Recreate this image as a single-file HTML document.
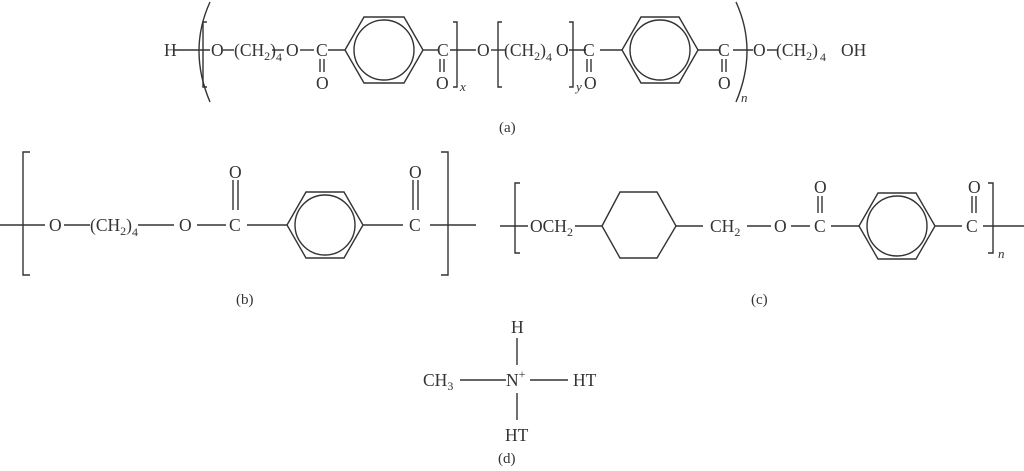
<!DOCTYPE html>
<html><head><meta charset="utf-8"><style>
html,body{margin:0;padding:0;background:#fff;}
svg{display:block;}
text{font-family:"Liberation Serif",serif;font-size:17.5px;fill:#333;}
.s{font-size:12px;}
.i{font-style:italic;font-size:13px;}
</style></head><body>
<svg width="1024" height="471" viewBox="0 0 1024 471" xmlns="http://www.w3.org/2000/svg">
<g stroke="#333" stroke-width="1.4" fill="none">
<!-- (a) -->
<line x1="174" y1="50" x2="210" y2="50"/>
<path d="M210 2 Q188 50 210 102"/>
<path d="M207 22 L203 22 L203 87 L207 87"/>
<line x1="223" y1="50" x2="234" y2="50"/>
<line x1="272" y1="50" x2="284" y2="50"/>
<line x1="300" y1="50" x2="314" y2="50"/>
<line x1="328" y1="50" x2="345" y2="50"/>
<line x1="320" y1="59" x2="320" y2="72"/><line x1="324" y1="59" x2="324" y2="72"/>
<polygon points="345,50 364,17 404,17 423,50 404,83 364,83"/>
<circle cx="384" cy="50" r="30"/>
<line x1="423" y1="50" x2="438" y2="50"/>
<line x1="440" y1="59" x2="440" y2="72"/><line x1="444" y1="59" x2="444" y2="72"/>
<path d="M453 22 L457 22 L457 87 L453 87"/>
<line x1="450" y1="50" x2="476" y2="50"/>
<line x1="491" y1="50" x2="505" y2="50"/>
<path d="M502 22 L498 22 L498 87 L502 87"/>
<line x1="569" y1="50" x2="586" y2="50"/>
<path d="M569 22 L573 22 L573 87 L569 87"/>
<line x1="587" y1="59" x2="587" y2="72"/><line x1="591" y1="59" x2="591" y2="72"/>
<line x1="600" y1="50" x2="622" y2="50"/>
<polygon points="622,50 641,17 679,17 698,50 679,83 641,83"/>
<circle cx="660" cy="50" r="30"/>
<line x1="698" y1="50" x2="720" y2="50"/>
<line x1="722" y1="59" x2="722" y2="72"/><line x1="726" y1="59" x2="726" y2="72"/>
<path d="M736 2 Q758 50 736 102"/>
<line x1="733" y1="50" x2="753" y2="50"/>
<line x1="767" y1="50" x2="778" y2="50"/>
<!-- (b) -->
<line x1="0" y1="225" x2="45" y2="225"/>
<path d="M30 152 L23 152 L23 275 L30 275"/>
<line x1="64" y1="225" x2="90" y2="225"/>
<line x1="138" y1="225" x2="174" y2="225"/>
<line x1="197" y1="225" x2="226" y2="225"/>
<line x1="233" y1="180" x2="233" y2="210"/><line x1="238" y1="180" x2="238" y2="210"/>
<line x1="247" y1="225" x2="287" y2="225"/>
<polygon points="287,225 306,192 344,192 363,225 344,258 306,258"/>
<circle cx="325" cy="225" r="30"/>
<line x1="363" y1="225" x2="403" y2="225"/>
<line x1="413" y1="180" x2="413" y2="210"/><line x1="418" y1="180" x2="418" y2="210"/>
<line x1="430" y1="225" x2="476" y2="225"/>
<path d="M441 152 L448 152 L448 275 L441 275"/>
<!-- (c) -->
<line x1="500" y1="226" x2="528" y2="226"/>
<path d="M520 183 L515 183 L515 253 L520 253"/>
<line x1="575" y1="226" x2="602" y2="226"/>
<polygon points="602,226 620,192 657,192 676,226 657,258 620,258"/>
<line x1="676" y1="226" x2="703" y2="226"/>
<line x1="747" y1="226" x2="771" y2="226"/>
<line x1="791" y1="226" x2="810" y2="226"/>
<line x1="818" y1="196" x2="818" y2="213"/><line x1="822" y1="196" x2="822" y2="213"/>
<line x1="831" y1="226" x2="859" y2="226"/>
<polygon points="859,226 878,193 916,193 935,226 916,259 878,259"/>
<circle cx="897" cy="226" r="30"/>
<line x1="935" y1="226" x2="962" y2="226"/>
<line x1="972" y1="196" x2="972" y2="213"/><line x1="976" y1="196" x2="976" y2="213"/>
<line x1="983" y1="226" x2="1024" y2="226"/>
<path d="M988 183 L993 183 L993 253 L988 253"/>
<!-- (d) -->
<line x1="517" y1="338" x2="517" y2="365"/>
<line x1="460" y1="380" x2="506" y2="380"/>
<line x1="530" y1="380" x2="568" y2="380"/>
<line x1="517" y1="393" x2="517" y2="420"/>
</g>
<!-- (a) text -->
<text x="164" y="56">H</text>
<text x="211" y="56">O</text>
<text x="234" y="56">(CH<tspan class="s" dy="4">2</tspan><tspan dy="-4">)</tspan></text>
<text x="276" y="61" class="s">4</text>
<text x="286" y="56">O</text>
<text x="316" y="56">C</text>
<text x="316" y="89">O</text>
<text x="437" y="56">C</text>
<text x="436" y="89">O</text>
<text x="460" y="91" class="i">x</text>
<text x="477" y="56">O</text>
<text x="504" y="56">(CH<tspan class="s" dy="4">2</tspan><tspan dy="-4">)</tspan></text>
<text x="546" y="61" class="s">4</text>
<text x="556" y="56">O</text>
<text x="576" y="91" class="i">y</text>
<text x="583" y="56">C</text>
<text x="584" y="89">O</text>
<text x="718" y="56">C</text>
<text x="718" y="89">O</text>
<text x="741" y="102" class="i">n</text>
<text x="753" y="56">O</text>
<text x="776" y="56">(CH<tspan class="s" dy="4">2</tspan><tspan dy="-4">)</tspan></text>
<text x="820" y="61" class="s">4</text>
<text x="841" y="56">OH</text>
<text x="499" y="132" style="font-size:15px">(a)</text>
<!-- (b) text -->
<text x="49" y="231">O</text>
<text x="90" y="231">(CH<tspan class="s" dy="4">2</tspan><tspan dy="-4">)</tspan></text>
<text x="132" y="236" class="s">4</text>
<text x="179" y="231">O</text>
<text x="229" y="231">C</text>
<text x="229" y="178">O</text>
<text x="409" y="231">C</text>
<text x="409" y="178">O</text>
<text x="236" y="304" style="font-size:15px">(b)</text>
<!-- (c) text -->
<text x="530" y="232">OCH<tspan class="s" dy="4">2</tspan></text>
<text x="710" y="232">CH<tspan class="s" dy="4">2</tspan></text>
<text x="774" y="232">O</text>
<text x="814" y="232">C</text>
<text x="814" y="193">O</text>
<text x="966" y="232">C</text>
<text x="968" y="193">O</text>
<text x="998" y="258" class="i">n</text>
<text x="751" y="304" style="font-size:15px">(c)</text>
<!-- (d) text -->
<text x="511" y="333">H</text>
<text x="423" y="386">CH<tspan class="s" dy="4">3</tspan></text>
<text x="506" y="386">N<tspan class="s" dy="-8">+</tspan></text>
<text x="573" y="386">HT</text>
<text x="505" y="441">HT</text>
<text x="498" y="463" style="font-size:15px">(d)</text>
</svg>
</body></html>
